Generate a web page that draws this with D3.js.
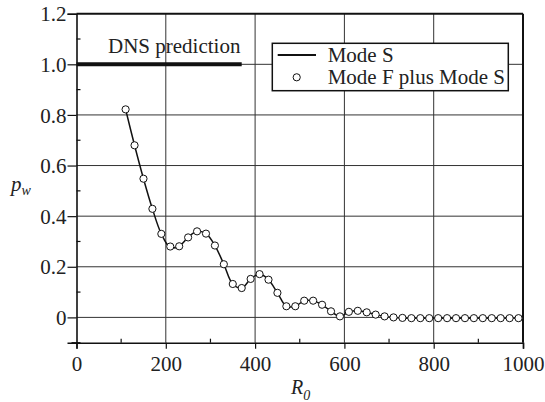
<!DOCTYPE html>
<html><head><meta charset="utf-8">
<script src="https://cdn.jsdelivr.net/npm/d3@7"></script>
<style>body{margin:0;background:#fff}svg{display:block}svg text{font-family:'Liberation Serif','Tinos','Times New Roman','Nimbus Roman','DejaVu Serif',serif !important;fill:#222}</style>
</head><body><svg id="c" width="545" height="402"></svg>
<script>
const R0 = [110,130,150,170,190,210,230,250,270,290,310,330,350,370,390,410,430,450,470,490,510,530,550,570,590,610,630,650,670,690,710,730,750,770,790,810,830,850,870,890,910,930,950,970,990];
const modeS = [0.822,0.680,0.548,0.429,0.330,0.276,0.281,0.316,0.340,0.331,0.284,0.210,0.132,0.116,0.152,0.171,0.149,0.097,0.044,0.044,0.066,0.066,0.050,0.024,0.004,0.022,0.026,0.020,0.011,0.004,0.000,-0.002,-0.003,-0.003,-0.003,-0.003,-0.003,-0.003,-0.003,-0.003,-0.003,-0.003,-0.003,-0.003,-0.003];
const modeFS = [0.822,0.680,0.548,0.429,0.330,0.280,0.281,0.316,0.340,0.331,0.284,0.210,0.132,0.116,0.152,0.171,0.149,0.097,0.044,0.044,0.066,0.066,0.050,0.024,0.004,0.022,0.026,0.020,0.011,0.004,0.000,-0.002,-0.003,-0.003,-0.003,-0.003,-0.003,-0.003,-0.003,-0.003,-0.003,-0.003,-0.003,-0.003,-0.003];
const dnsValue = 1.0, dnsRange = [0, 370];
const xTicks = [0,200,400,600,800,1000];
const yTicks = [0,0.2,0.4,0.6,0.8,1.0,1.2];
const yTickLabels = ["0","0.2","0.4","0.6","0.8","1.0","1.2"];
const xMinor = [100,300,500,700,900];
const yMinor = [-0.1,0.1,0.3,0.5,0.7,0.9,1.1];
const legendLabels = ["Mode S","Mode F plus Mode S"];

const svg = d3.select("#c");
const x = d3.scaleLinear().domain([0,1000]).range([76.5,523]);
const y = d3.scaleLinear().domain([-0.1,1.2]).range([342.7,13.7]);

// grid
const g = svg.append("g");
g.selectAll(".gx").data(xTicks.slice(1,-1)).join("line")
 .attr("x1",d=>x(d)).attr("x2",d=>x(d)).attr("y1",y(-0.1)).attr("y2",y(1.2))
 .attr("stroke","#333").attr("stroke-width",1);
g.selectAll(".gy").data(yTicks.slice(0,-1)).join("line")
 .attr("x1",x(0)).attr("x2",x(1000)).attr("y1",d=>y(d)).attr("y2",d=>y(d))
 .attr("stroke","#333").attr("stroke-width",1);

// axes
const left = svg.append("g").attr("transform",`translate(${x(0)},0)`)
 .call(d3.axisLeft(y).tickValues(yTicks).tickSize(9).tickPadding(1).tickFormat((d,i)=>yTickLabels[i]));
const bottom = svg.append("g").attr("transform",`translate(0,${y(-0.1)})`)
 .call(d3.axisBottom(x).tickValues(xTicks).tickSize(6).tickPadding(7).tickFormat(d3.format("d")));
[left,bottom].forEach(a=>{
  a.attr("font-family",null);
  a.select(".domain").attr("stroke","#111").attr("stroke-width",1.6);
  a.selectAll(".tick line").attr("stroke","#111").attr("stroke-width",1.2);
  a.selectAll("text").attr("font-size",21).attr("fill","#222");
});
left.selectAll("text").attr("dy","0.34em");
// minor ticks (inward)
svg.append("g").selectAll("line").data(yMinor).join("line")
 .attr("x1",x(0)).attr("x2",x(0)+4).attr("y1",d=>y(d)).attr("y2",d=>y(d)).attr("stroke","#111").attr("stroke-width",1.2);
svg.append("g").selectAll("line").data(xMinor).join("line")
 .attr("x1",d=>x(d)).attr("x2",d=>x(d)).attr("y1",y(-0.1)).attr("y2",y(-0.1)-4).attr("stroke","#111").attr("stroke-width",1.2);
svg.append("line").attr("x1",x(0)-5).attr("x2",x(0)).attr("y1",y(-0.1)).attr("y2",y(-0.1)).attr("stroke","#111").attr("stroke-width",1.2);
// top & right frame
svg.append("line").attr("x1",x(0)).attr("x2",x(1000)).attr("y1",y(1.2)).attr("y2",y(1.2)).attr("stroke","#111").attr("stroke-width",2);
svg.append("line").attr("x1",x(1000)).attr("x2",x(1000)).attr("y1",y(1.2)).attr("y2",y(-0.1)).attr("stroke","#111").attr("stroke-width",2);

// DNS line
svg.append("line").attr("x1",x(dnsRange[0])).attr("x2",x(dnsRange[1])).attr("y1",y(dnsValue)).attr("y2",y(dnsValue))
 .attr("stroke","#111").attr("stroke-width",4);
svg.append("text").attr("x",108).attr("y",53).attr("font-size",21).text("DNS prediction");

// Mode S line
const line = d3.line().x((d,i)=>x(R0[i])).y(d=>y(d)).curve(d3.curveCatmullRom);
svg.append("path").datum(modeS).attr("d",line).attr("fill","none").attr("stroke","#111").attr("stroke-width",1.5);
// circles
svg.append("g").selectAll("circle").data(modeFS).join("circle")
 .attr("cx",(d,i)=>x(R0[i])).attr("cy",d=>y(d)).attr("r",3.6)
 .attr("fill","#fff").attr("stroke","#111").attr("stroke-width",1);

// legend
const lg = svg.append("g");
lg.append("rect").attr("x",272.3).attr("y",43.3).attr("width",236).attr("height",47.4)
 .attr("fill","#fff").attr("stroke","#111").attr("stroke-width",1.5);
lg.append("line").attr("x1",277.7).attr("x2",316).attr("y1",55).attr("y2",55).attr("stroke","#111").attr("stroke-width",2);
lg.append("circle").attr("cx",296.7).attr("cy",77.3).attr("r",3.6).attr("fill","#fff").attr("stroke","#111").attr("stroke-width",1);
lg.selectAll("text").data(legendLabels).join("text")
 .attr("x",327.7).attr("y",(d,i)=>61.7+i*22.6).attr("font-size",21).text(d=>d);

// axis titles
const yl = svg.append("text").attr("x",11).attr("y",191).attr("font-size",21).attr("font-style","italic");
yl.append("tspan").text("p");
yl.append("tspan").attr("font-size",14).attr("dy",4).text("w");
const xl = svg.append("text").attr("x",291).attr("y",394).attr("font-size",20).attr("font-style","italic");
xl.append("tspan").text("R");
xl.append("tspan").attr("font-size",14).attr("dy",6).text("0");
</script></body></html>
